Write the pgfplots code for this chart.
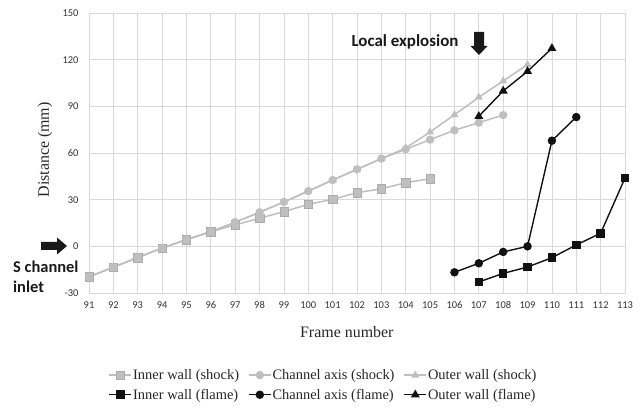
\documentclass[border=0pt]{standalone}
\usepackage{fontspec}
\setmainfont{Liberation Serif}
\newfontfamily\carlito{Carlito}
\usepackage{pgfplots}
\pgfplotsset{compat=1.18}
\definecolor{shock}{HTML}{BFBFBF}
\definecolor{gridc}{HTML}{D9D9D9}
\definecolor{flame}{HTML}{111111}
\begin{document}
\begin{tikzpicture}
\useasboundingbox (0,0) rectangle (644bp,409bp);
\begin{axis}[
  at={(89bp,116bp)}, anchor=south west, scale only axis,
  width=536bp, height=280bp,
  xmin=91, xmax=113, ymin=-30, ymax=150,
  xtick={91,...,113}, ytick={-30,0,30,60,90,120,150},
  yticklabels={-30,0,30,60,90,120,150},
  /pgf/number format/assume math mode=true,
  grid=major, grid style={draw=gridc, line width=0.7bp},
  axis line style={draw=gridc, line width=0.7bp},
  tick style={draw=none},
  tick label style={font=\carlito\fontsize{10.5}{12}\selectfont, text=black!80},
  xticklabel style={yshift=-5bp},
  yticklabel style={xshift=-7bp},
  xlabel={Frame number},
  ylabel={Distance (mm)},
  label style={font=\fontsize{16}{18}\selectfont, text=black!85},
  xlabel style={at={(axis description cs:0.481,-0.139)}, anchor=center},
  ylabel style={at={(axis description cs:-0.082,0.511)}, anchor=center, rotate=0},
  legend columns=3,
  legend style={at={(axis description cs:0.4366,-0.3286)}, anchor=center, draw=none, fill=none,
    font=\fontsize{14.5}{16}\selectfont, text=black!85,
    /tikz/every odd column/.append style={column sep=0bp},
    /tikz/every even column/.append style={column sep=8bp},
    nodes={inner sep=1bp},
    row sep=6bp, inner sep=0pt},
  legend cell align=left,
  legend image code/.code={\draw[mark repeat=2,mark phase=2] plot coordinates {(0bp,0bp)(11bp,0bp)(22bp,0bp)};},
]
% shock
\addplot[color=shock, line width=1.5bp, mark=square*, mark size=4.2bp, mark options={fill=shock, draw=shock!90!black, line width=0.4bp}]
  coordinates {(91,-19.6)(92,-13.4)(93,-7.2)(94,-1.1)(95,4.3)(96,9.4)(97,13.8)(98,18.0)(99,22.3)(100,27.0)(101,30.2)(102,34.5)(103,37.0)(104,40.9)(105,43.5)};
\addlegendentry{Inner wall (shock)}
\addplot[color=shock, line width=1.5bp, mark=*, mark size=3.4bp, mark options={fill=shock, draw=shock}]
  coordinates {(91,-19.6)(92,-13.4)(93,-7.2)(94,-1.1)(95,4.3)(96,9.4)(97,15.5)(98,21.9)(99,28.5)(100,35.5)(101,42.6)(102,49.5)(103,56.4)(104,62.4)(105,68.6)(106,74.6)(107,79.5)(108,84.4)};
\addlegendentry{Channel axis (shock)}
\addplot[color=shock, line width=1.5bp, mark=triangle*, mark size=3.2bp, mark options={fill=shock, draw=shock}]
  coordinates {(91,-19.6)(92,-13.4)(93,-7.2)(94,-1.1)(95,4.3)(96,9.4)(97,15.5)(98,21.9)(99,28.5)(100,35.5)(101,42.6)(102,49.5)(103,56.4)(104,63.2)(105,73.5)(106,84.6)(107,95.8)(108,106.3)(109,116.8)};
\addlegendentry{Outer wall (shock)}
% flame
\addplot[color=flame, line width=1.4bp, mark=square*, mark size=3.6bp, mark options={fill=flame, draw=flame}]
  coordinates {(107,-22.9)(108,-17.4)(109,-13.3)(110,-7.3)(111,0.9)(112,8.4)(113,43.9)};
\addlegendentry{Inner wall (flame)}
\addplot[color=flame, line width=1.4bp, mark=*, mark size=3.5bp, mark options={fill=flame, draw=flame}]
  coordinates {(106,-16.7)(107,-10.9)(108,-3.6)(109,0.0)(110,67.9)(111,83.1)};
\addlegendentry{Channel axis (flame)}
\addplot[color=flame, line width=1.4bp, mark=triangle*, mark size=3.8bp, mark options={fill=flame, draw=flame}]
  coordinates {(107,83.6)(108,99.9)(109,112.5)(110,127.3)};
\addlegendentry{Outer wall (flame)}
\end{axis}
% annotations
\node[font=\carlito\bfseries\fontsize{17}{20}\selectfont, text=black!90, anchor=center] at (405bp,367bp) {Local explosion};
\fill[black!90] (474bp,377bp) -- (484bp,377bp) -- (484bp,363bp) -- (487.5bp,363bp) -- (479bp,354bp) -- (470.5bp,363bp) -- (474bp,363bp) -- cycle;
\fill[black!90] (41bp,159bp) -- (41bp,167bp) -- (57bp,167bp) -- (57bp,171.5bp) -- (67bp,163bp) -- (57bp,154.5bp) -- (57bp,159bp) -- cycle;
\node[font=\carlito\bfseries\fontsize{16.5}{19}\selectfont, text=black!90, anchor=west, inner sep=0pt] at (13bp,142bp) {S channel};
\node[font=\carlito\bfseries\fontsize{16.5}{19}\selectfont, text=black!90, anchor=west, inner sep=0pt] at (13bp,122bp) {inlet};
\end{tikzpicture}
\end{document}
